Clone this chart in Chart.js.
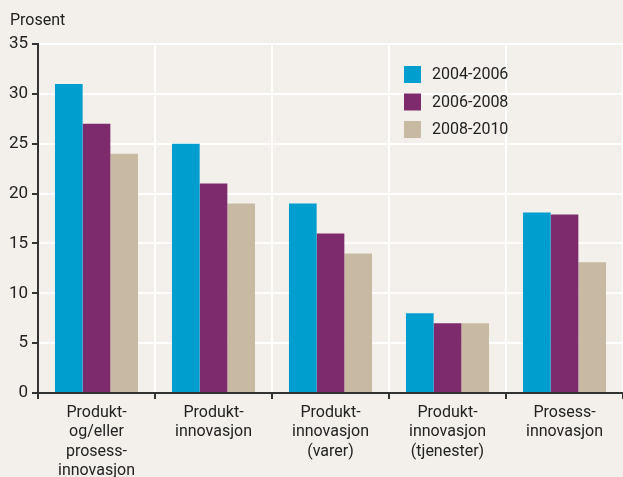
<!DOCTYPE html>
<html>
<head>
<meta charset="utf-8">
<script src="https://cdn.jsdelivr.net/npm/chart.js@4/dist/chart.umd.min.js"></script>
<style>
  html, body { margin: 0; padding: 0; background: #f3f0eb; }
  canvas { display: block; }
</style>
</head>
<body>
<canvas id="chart-area" width="623" height="477"></canvas>
<script>
// categories (multi-line labels) and the three periods
var categories = [
    ["Produkt-", "og/eller", "prosess-", "innovasjon"],
    ["Produkt-", "innovasjon"],
    ["Produkt-", "innovasjon", "(varer)"],
    ["Produkt-", "innovasjon", "(tjenester)"],
    ["Prosess-", "innovasjon"]
];
var periods = ["2004-2006", "2006-2008", "2008-2010"];
var values2004 = [31, 25, 19, 8, 18.1];
var values2006 = [27, 21, 16, 7, 17.9];
var values2008 = [24, 19, 14, 7, 13.1];
var yTicks = [0, 5, 10, 15, 20, 25, 30, 35];

var colors = ["#009ecf", "#7d2b6c", "#c8b9a3"];
var textColor = "#222";
var fontFamily = "Roboto, 'Noto Sans', sans-serif";

// legend + "Prosent" label drawn by hand, legend sits inside plot area
var extraText = {
    id: "extraText",
    afterDraw: function (chart) {
        var c = chart.ctx;
        c.save();
        c.fillStyle = textColor;
        c.font = "16px " + fontFamily;
        c.textBaseline = "middle";
        c.textAlign = "left";
        c.fillText("Prosent", 10, 21);
        chart.data.datasets.forEach(function (ds, i) {
            var y = 66 + i * 27.5;
            c.fillStyle = ds.backgroundColor;
            c.fillRect(404, y, 17, 17);
            c.fillStyle = textColor;
            c.fillText(ds.label, 432, y + 9);
        });
        c.restore();
    }
};

var ctx = document.getElementById("chart-area").getContext("2d");
var myGraph = new Chart(ctx, {
    type: "bar",
    data: {
        labels: categories,
        datasets: [
            { label: periods[0], data: values2004, backgroundColor: colors[0] },
            { label: periods[1], data: values2006, backgroundColor: colors[1] },
            { label: periods[2], data: values2008, backgroundColor: colors[2] }
        ]
    },
    plugins: [extraText],
    options: {
        responsive: false,
        animation: false,
        layout: { padding: { top: 44, right: 0, left: 0, bottom: 0 } },
        datasets: {
            bar: { categoryPercentage: 0.71, barPercentage: 1.0 }
        },
        plugins: {
            legend: { display: false },
            title: { display: false },
            tooltip: { enabled: false }
        },
        scales: {
            x: {
                afterFit: function (scale) { scale.height = 84; },
                grid: {
                    offset: true,
                    color: "#ffffff",
                    lineWidth: 2,
                    tickColor: "#333",
                    tickLength: 6
                },
                border: { color: "#333", width: 2 },
                ticks: {
                    color: textColor,
                    font: { family: fontFamily, size: 16, lineHeight: 1.22 },
                    padding: 4,
                    maxRotation: 0,
                    autoSkip: false
                }
            },
            y: {
                min: 0,
                max: 35,
                afterFit: function (scale) { scale.width = 38; },
                afterBuildTicks: function (scale) {
                    scale.ticks = yTicks.map(function (v) { return { value: v }; });
                },
                grid: {
                    color: "#ffffff",
                    lineWidth: 2,
                    tickColor: "#333",
                    tickLength: 6
                },
                border: { color: "#333", width: 2 },
                ticks: {
                    color: textColor,
                    font: { family: fontFamily, size: 17 },
                    padding: 4
                }
            }
        }
    }
});
</script>
</body>
</html>
